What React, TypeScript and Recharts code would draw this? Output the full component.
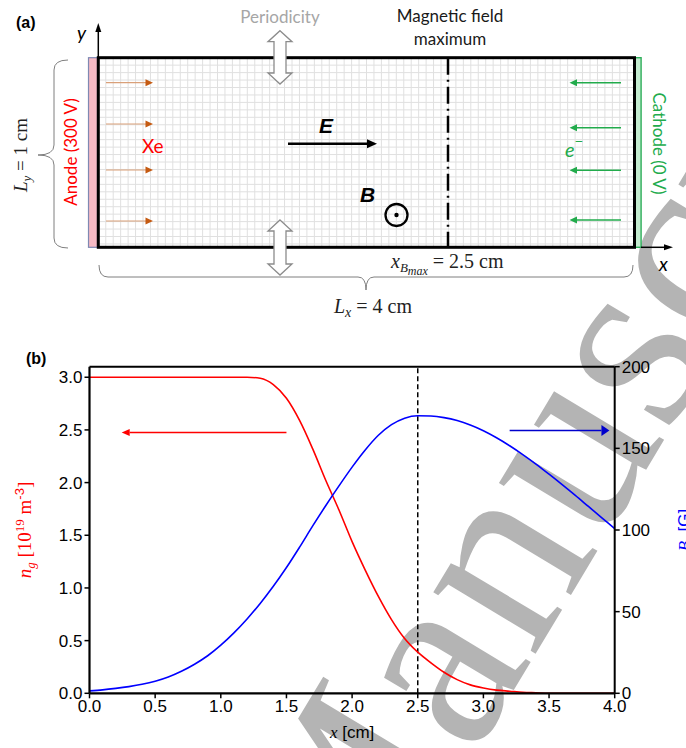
import React from 'react';
import { LineChart, Line, XAxis, YAxis, ReferenceLine, Label } from 'recharts';

// Axial position along the channel [cm]
const positions = [
  0.0, 0.1, 0.2, 0.3, 0.4, 0.5, 0.6, 0.7, 0.8, 0.9,
  1.0, 1.1, 1.2, 1.3, 1.4, 1.5, 1.6, 1.7, 1.8, 1.9,
  2.0, 2.1, 2.2, 2.3, 2.4, 2.5, 2.6, 2.7, 2.8, 2.9,
  3.0, 3.1, 3.2, 3.3, 3.4, 3.5, 3.6, 3.7, 3.8, 3.9, 4.0,
];

// Neutral gas density n_g [1e19 m^-3]
const gasDensity = [
  3.0, 3.0, 3.0, 3.0, 3.0, 3.0, 3.0, 3.0, 3.0, 3.0,
  3.0, 3.0, 3.0, 2.99, 2.93, 2.8, 2.59, 2.32, 2.02, 1.74,
  1.44, 1.17, 0.92, 0.7, 0.52, 0.39, 0.29, 0.2, 0.13, 0.08,
  0.05, 0.03, 0.02, 0.01, 0.005, 0.0, 0.0, 0.0, 0.0, 0.0, 0.0,
];

// Radial magnetic field B_r [G]
const magneticField = [
  1.5, 2.1, 3.0, 4.1, 5.5, 7.4, 10.0, 13.5, 17.8, 23.0,
  29.5, 37.0, 45.5, 55.0, 65.5, 77.0, 89.5, 102.5, 115.0, 127.0,
  138.5, 149.0, 158.0, 164.5, 168.5, 170.0, 169.8, 168.8, 167.0, 164.3,
  160.8, 156.5, 151.6, 146.2, 140.4, 134.2, 127.8, 121.2, 114.4, 107.6, 100.8,
];

const xTicks = [0, 0.5, 1, 1.5, 2, 2.5, 3, 3.5, 4];
const densityTicks = [0, 0.5, 1, 1.5, 2, 2.5, 3];
const fieldTicks = [0, 50, 100, 150, 200];

const xMax = 2.5;
const densityArrow = { from: 1.5, to: 0.245, level: 2.475 };
const fieldArrow = { from: 3.2, to: 3.96, level: 161 };

const rows = positions.map((x, i) => ({ x, ng: gasDensity[i], br: magneticField[i] }));

const SANS = 'Liberation Sans, Arial, sans-serif';
const SERIF = 'Liberation Serif, Times New Roman, serif';
const CAL = 'Lato, Liberation Sans, sans-serif';

const arrowShape = (color: string, hl: number, hw: number) => (props: any) => {
  const { x1, y1, x2, y2 } = props;
  const dx = x2 - x1;
  const dy = y2 - y1;
  const len = Math.hypot(dx, dy) || 1;
  const ux = dx / len;
  const uy = dy / len;
  const bx = x2 - ux * hl;
  const by = y2 - uy * hl;
  return (
    <g>
      <line x1={x1} y1={y1} x2={bx} y2={by} stroke={color} strokeWidth={1.5} />
      <polygon
        points={`${x2},${y2} ${bx - uy * hw},${by + ux * hw} ${bx + uy * hw},${by - ux * hw}`}
        fill={color}
      />
    </g>
  );
};

const DensityLabel = (props: any) => {
  const vb = props.viewBox || { x: 49.5, y: 366.7, width: 40, height: 326.6 };
  const cx = vb.x - 19;
  const cy = vb.y + vb.height / 2;
  return (
    <text
      x={cx}
      y={cy}
      transform={`rotate(-90, ${cx}, ${cy})`}
      textAnchor="middle"
      fill="#ff0000"
      fontFamily={SERIF}
      fontSize={19}
    >
      <tspan fontStyle="italic">n</tspan>
      <tspan fontStyle="italic" fontSize={13} dy={4}>g</tspan>
      <tspan dy={-4}> [10</tspan>
      <tspan fontSize={13} dy={-7}>19</tspan>
      <tspan dy={7}> m</tspan>
      <tspan fontSize={13} dy={-7} fontFamily={SANS}>-3</tspan>
      <tspan dy={7}>]</tspan>
    </text>
  );
};

const FieldLabel = (props: any) => {
  const vb = props.viewBox || { x: 614.7, y: 366.7, width: 40, height: 326.6 };
  const cx = vb.x + 75;
  const cy = vb.y + vb.height / 2;
  return (
    <text
      x={cx}
      y={cy}
      transform={`rotate(-90, ${cx}, ${cy})`}
      textAnchor="middle"
      fill="#0000ff"
      fontFamily={SANS}
      fontSize={17}
    >
      <tspan fontStyle="italic" fontFamily={SERIF}>B</tspan>
      <tspan fontStyle="italic" fontFamily={SERIF} fontSize={12} dy={4}>r</tspan>
      <tspan dy={-4}> [G]</tspan>
    </text>
  );
};

const PositionLabel = (props: any) => {
  const vb = props.viewBox || { x: 89.5, y: 693.3, width: 525.2, height: 30 };
  const cx = vb.x + vb.width / 2;
  const cy = vb.y + 45;
  return (
    <text x={cx} y={cy} textAnchor="middle" fill="#000" fontFamily={SANS} fontSize={17}>
      <tspan fontStyle="italic" fontFamily={SERIF}>x</tspan>
      <tspan> [cm]</tspan>
    </text>
  );
};

function ArrowHead({ x, y, dir, len, half, color }: any) {
  // dir: unit vector of the arrow direction, tip at (x, y)
  const [ux, uy] = dir;
  const bx = x - ux * len;
  const by = y - uy * len;
  return (
    <polygon
      points={`${x},${y} ${bx - uy * half},${by + ux * half} ${bx + uy * half},${by - ux * half}`}
      fill={color}
    />
  );
}

function DoubleArrow({ cx, top, bottom }: any) {
  const hw = 12;
  const sw = 6;
  const hl = 11;
  const pts = [
    [cx, top], [cx + hw, top + hl], [cx + sw, top + hl], [cx + sw, bottom - hl],
    [cx + hw, bottom - hl], [cx, bottom], [cx - hw, bottom - hl], [cx - sw, bottom - hl],
    [cx - sw, top + hl], [cx - hw, top + hl],
  ].map((p) => p.join(',')).join(' ');
  return <polygon points={pts} fill="#fff" stroke="#8c8c8c" strokeWidth={1.3} />;
}

function Schematic() {
  const left = 98.3;
  const top = 57.7;
  const right = 634.5;
  const bottom = 247.3;
  const step = 7.45;
  const vLines: number[] = [];
  for (let x = left + step; x < right - 1; x += step) vLines.push(x);
  const hLines: number[] = [];
  for (let y = top + step; y < bottom - 1; y += step) hLines.push(y);
  const xeRows = [82.7, 124, 170, 221];
  const eRows = [82.7, 127.7, 170.3, 220];
  const xB = 448;

  return (
    <svg width={686} height={330} style={{ position: 'absolute', left: 0, top: 0 }}>
      <text x={16} y={28} fontFamily={SANS} fontWeight="bold" fontSize={16} fill="#000">(a)</text>

      {/* mesh */}
      <g stroke="#e0e0e0" strokeWidth={1}>
        {vLines.map((x) => <line key={`v${x}`} x1={x} y1={top} x2={x} y2={bottom} />)}
        {hLines.map((y) => <line key={`h${y}`} x1={left} y1={y} x2={right} y2={y} />)}
      </g>

      {/* electrodes */}
      <rect x={88.5} y={top} width={9} height={bottom - top} fill="#f7bac4" stroke="#7e89b3" strokeWidth={1.2} />
      <rect x={634.8} y={top} width={6.3} height={bottom - top} fill="#c4ecd0" stroke="#2fae5a" strokeWidth={1.4} />

      {/* domain boundary */}
      <rect x={left} y={top} width={right - left} height={bottom - top} fill="none" stroke="#000" strokeWidth={3} />

      {/* coordinate axes */}
      <line x1={left} y1={top} x2={left} y2={30} stroke="#000" strokeWidth={1.5} />
      <ArrowHead x={left} y={23} dir={[0, -1]} len={9} half={3} color="#000" />
      <text x={77} y={40} fontFamily={CAL} fontStyle="italic" fontSize={19} fill="#000">y</text>
      <line x1={641} y1={bottom} x2={666} y2={bottom} stroke="#000" strokeWidth={1.5} />
      <ArrowHead x={673} y={bottom} dir={[1, 0]} len={9} half={3} color="#000" />
      <text x={659} y={271} fontFamily={CAL} fontStyle="italic" fontSize={19} fill="#000">x</text>

      {/* periodic boundaries */}
      <text x={280} y={23} textAnchor="middle" fontFamily={CAL} fontSize={17} fill="#a6a6a6">Periodicity</text>
      <DoubleArrow cx={280} top={30.7} bottom={84} />
      <DoubleArrow cx={280} top={220} bottom={275} />

      {/* magnetic field maximum */}
      <text x={450} y={22} textAnchor="middle" fontFamily={CAL} fontSize={17} fill="#1a1a1a">Magnetic field</text>
      <text x={450} y={45} textAnchor="middle" fontFamily={CAL} fontSize={17} fill="#1a1a1a">maximum</text>
      <line x1={xB} y1={top} x2={xB} y2={bottom} stroke="#000" strokeWidth={2.5} strokeDasharray="17 5 2 5" />

      {/* injected xenon */}
      {xeRows.map((y) => (
        <g key={`xe${y}`}>
          <line x1={106} y1={y} x2={146} y2={y} stroke="#d9a079" strokeWidth={1.2} />
          <ArrowHead x={153} y={y} dir={[1, 0]} len={7.5} half={3.5} color="#c55a11" />
        </g>
      ))}
      <text x={142} y={153} fontFamily={CAL} fontSize={19} fill="#ff0000">Xe</text>

      {/* electrons from cathode */}
      {eRows.map((y) => (
        <g key={`el${y}`}>
          <line x1={621} y1={y} x2={577} y2={y} stroke="#22ab4c" strokeWidth={1.5} />
          <ArrowHead x={569.5} y={y} dir={[-1, 0]} len={7.5} half={3.5} color="#22ab4c" />
        </g>
      ))}
      <text x={565} y={157} fontFamily={CAL} fontStyle="italic" fontSize={20} fill="#22ab4c">
        e<tspan fontSize={15} dy={-10}>−</tspan>
      </text>

      {/* electric field */}
      <text x={319} y={133} fontFamily={SANS} fontStyle="italic" fontWeight="bold" fontSize={21} fill="#000">E</text>
      <line x1={288} y1={143.8} x2={368} y2={143.8} stroke="#000" strokeWidth={2.5} />
      <ArrowHead x={377} y={143.8} dir={[1, 0]} len={10} half={4.5} color="#000" />

      {/* magnetic field out of plane */}
      <text x={360} y={202} fontFamily={SANS} fontStyle="italic" fontWeight="bold" fontSize={21} fill="#000">B</text>
      <circle cx={396.5} cy={215} r={11} fill="none" stroke="#000" strokeWidth={2.3} />
      <circle cx={396.5} cy={215} r={2.2} fill="#000" />

      {/* electrode labels */}
      <text x={77} y={152} transform="rotate(-90, 77, 152)" textAnchor="middle" fontFamily={CAL} fontSize={17} fill="#ff0000">Anode (300 V)</text>
      <text x={653} y={143.5} transform="rotate(90, 653, 143.5)" textAnchor="middle" fontFamily={CAL} fontSize={17} fill="#22ab4c">Cathode (0 V)</text>

      {/* domain size */}
      <path d="M 68 60 Q 54 60 54 70 L 54 145 Q 54 155 38 155 Q 54 155 54 165 L 54 238 Q 54 248 68 248" fill="none" stroke="#7f7f7f" strokeWidth={1} />
      <text x={27} y={155} transform="rotate(-90, 27, 155)" textAnchor="middle" fontFamily={SERIF} fontSize={19} fill="#222">
        <tspan fontStyle="italic">L</tspan>
        <tspan fontStyle="italic" fontSize={13} dy={4}>y</tspan>
        <tspan dy={-4}> = 1 cm</tspan>
      </text>
      <path d="M 99 265 Q 99 277 108 277 L 358 277 Q 366 277 366 290 Q 366 277 374 277 L 624 277 Q 633 277 633 265" fill="none" stroke="#7f7f7f" strokeWidth={1} />
      <text x={373} y={313} textAnchor="middle" fontFamily={SERIF} fontSize={20} fill="#222">
        <tspan fontStyle="italic">L</tspan>
        <tspan fontStyle="italic" fontSize={14} dy={4}>x</tspan>
        <tspan dy={-4}> = 4 cm</tspan>
      </text>
      <text x={391} y={268} fontFamily={SERIF} fontSize={20} fill="#222">
        <tspan fontStyle="italic">x</tspan>
        <tspan fontStyle="italic" fontSize={13} dy={4}>B</tspan>
        <tspan fontStyle="italic" fontSize={12} dy={3}>max</tspan>
        <tspan dy={-7}> = 2.5 cm</tspan>
      </text>
    </svg>
  );
}

function Watermark() {
  return (
    <svg width={686} height={748} style={{ position: 'absolute', left: 0, top: 0 }}>
      <text
        transform="translate(354, 956) rotate(-59)"
        fontFamily={SERIF}
        fontSize={260}
        fill="#b4b4b4"
      >
        Manuscript
      </text>
    </svg>
  );
}

export default function App() {
  return (
    <div style={{ position: 'absolute', left: 0, top: 0, width: 686, height: 748, background: '#fff', overflow: 'hidden' }}>
      <Watermark />
      <Schematic />
      <div style={{ position: 'absolute', left: 0, top: 0 }}>
        <LineChart
          width={686}
          height={748}
          data={rows}
          margin={{ top: 366.7, right: 31.3, bottom: 24.7, left: 49.5 }}
        >
          <XAxis
            dataKey="x"
            type="number"
            domain={[0, 4]}
            ticks={xTicks}
            interval={0}
            height={30}
            tickFormatter={(v: number) => v.toFixed(1)}
            tick={{ fontSize: 17, fill: '#000', fontFamily: SANS }}
            axisLine={{ stroke: '#000', strokeWidth: 2.2 }}
            tickLine={{ stroke: '#000', strokeWidth: 1.5 }}
            tickSize={5}
            tickMargin={2}
          >
            <Label content={<PositionLabel />} />
          </XAxis>
          <YAxis
            yAxisId="left"
            type="number"
            domain={[0, 3.1]}
            ticks={densityTicks}
            interval={0}
            width={40}
            allowDataOverflow
            tickFormatter={(v: number) => v.toFixed(1)}
            tick={{ fontSize: 17, fill: '#000', fontFamily: SANS }}
            axisLine={{ stroke: '#000', strokeWidth: 2.2 }}
            tickLine={{ stroke: '#000', strokeWidth: 1.5 }}
            tickSize={5}
            tickMargin={2}
          >
            <Label content={<DensityLabel />} />
          </YAxis>
          <YAxis
            yAxisId="right"
            orientation="right"
            type="number"
            domain={[0, 200]}
            ticks={fieldTicks}
            interval={0}
            width={40}
            allowDataOverflow
            tick={{ fontSize: 17, fill: '#000', fontFamily: SANS }}
            axisLine={{ stroke: '#000', strokeWidth: 2 }}
            tickLine={{ stroke: '#000', strokeWidth: 1.5 }}
            tickSize={5}
            tickMargin={2}
          >
            <Label content={<FieldLabel />} />
          </YAxis>
          <ReferenceLine yAxisId="left" y={3.1} stroke="#000" strokeWidth={2} />
          <ReferenceLine yAxisId="left" x={xMax} stroke="#000" strokeWidth={1.5} strokeDasharray="5 3" />
          <Line
            yAxisId="left"
            dataKey="ng"
            type="monotone"
            stroke="#ff0000"
            strokeWidth={1.6}
            dot={false}
            isAnimationActive={false}
          />
          <Line
            yAxisId="right"
            dataKey="br"
            type="monotone"
            stroke="#0000ff"
            strokeWidth={1.6}
            dot={false}
            isAnimationActive={false}
          />
          <ReferenceLine
            yAxisId="left"
            segment={[
              { x: densityArrow.from, y: densityArrow.level },
              { x: densityArrow.to, y: densityArrow.level },
            ]}
            shape={arrowShape('#ff0000', 8, 3.5)}
          />
          <ReferenceLine
            yAxisId="right"
            segment={[
              { x: fieldArrow.from, y: fieldArrow.level },
              { x: fieldArrow.to, y: fieldArrow.level },
            ]}
            shape={arrowShape('#0000cc', 8, 5.5)}
          />
        </LineChart>
      </div>
      <svg width={60} height={30} style={{ position: 'absolute', left: 0, top: 340 }}>
        <text x={26} y={24} fontFamily={SANS} fontWeight="bold" fontSize={16} fill="#000">(b)</text>
      </svg>
    </div>
  );
}
